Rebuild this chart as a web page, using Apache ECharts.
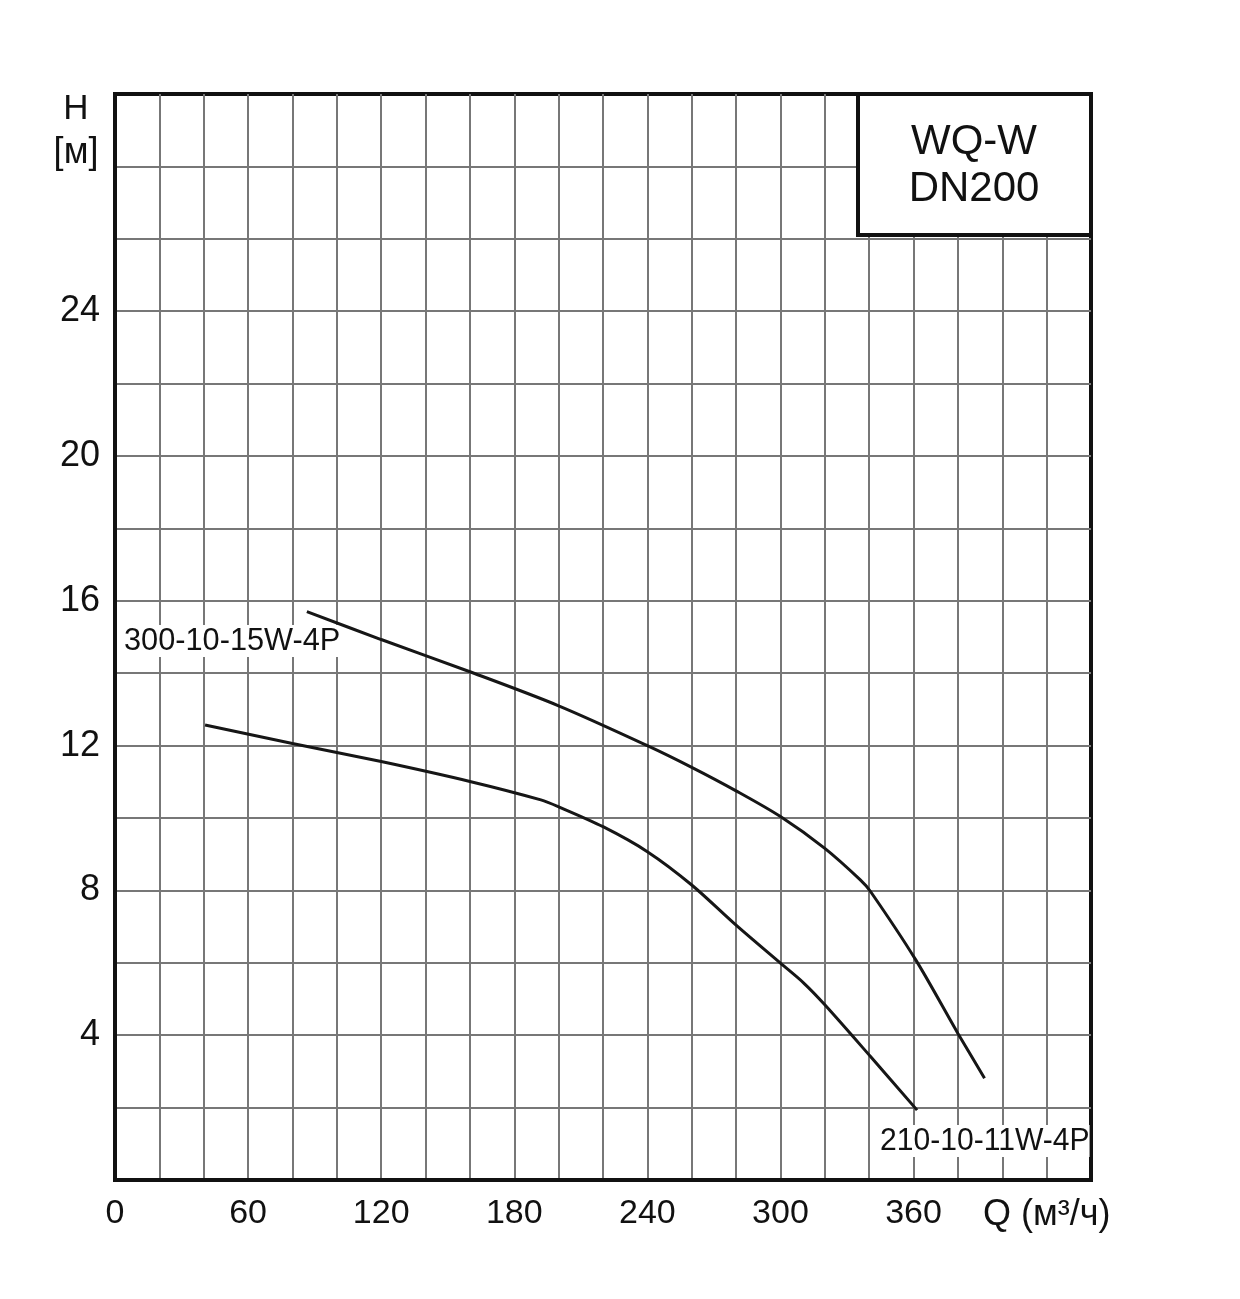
<!DOCTYPE html>
<html>
<head>
<meta charset="utf-8">
<script src="https://cdn.jsdelivr.net/npm/echarts@6/dist/echarts.min.js"></script>
<style>
  html, body { margin: 0; padding: 0; background: #fff; }
  #main { width: 1240px; height: 1299px; }
</style>
</head>
<body>
<div id="main"></div>
<script>
// Q (m3/h) - H (m) points
const curve300 = [
  [86.5, 15.7], [120, 14.93], [160, 14.04], [200, 13.1], [240, 12.0],
  [260, 11.4], [280, 10.75], [300, 10.04], [320, 9.16], [336, 8.29],
  [340.6, 7.97], [361, 6.08], [380, 4.05], [392, 2.81]
]
const curve210 = [
  [40.6, 12.57], [80, 12.06], [120, 11.56], [160, 11.01], [192, 10.5],
  [200, 10.31], [220, 9.76], [240, 9.07], [260, 8.15],
  [280, 7.04], [300, 5.99], [310.5, 5.44], [320, 4.84], [340.6, 3.41],
  [361.6, 1.93]
]
const xLabels = [0, 60, 120, 180, 240, 300, 360]
const yLabels = [4, 8, 12, 16, 20, 24]
const seriesNames = ['300-10-15W-4P', '210-10-11W-4P']

const font = 'Liberation Sans, Arial, sans-serif'
const chart = echarts.init(document.getElementById('main'))

const option = {
  animation: false,
  backgroundColor: '#fff',
  grid: {
    left: 115,
    right: 149,
    top: 94,
    bottom: 119,
    show: true,
    borderColor: '#111',
    borderWidth: 4
  },
  xAxis: {
    type: 'value',
    min: 0,
    max: 440,
    interval: 20,
    axisLine: { show: true, lineStyle: { color: '#111', width: 4 } },
    axisTick: { show: false },
    axisLabel: {
      margin: 17,
      color: '#111',
      fontSize: 34,
      fontFamily: font,
      formatter: v => {
        if (xLabels.indexOf(v) >= 0) return String(v)
        if (v === 420) return '{q|Q (м³/ч)}'
        return ''
      },
      rich: {
        q: { fontSize: 36, fontFamily: font, color: '#111' }
      }
    },
    splitLine: {
      show: true,
      showMinLine: false,
      showMaxLine: false,
      lineStyle: { color: '#777', width: 2 }
    }
  },
  yAxis: {
    type: 'value',
    min: 0,
    max: 30,
    interval: 2,
    axisLine: { show: true, lineStyle: { color: '#111', width: 4 } },
    axisTick: { show: false },
    axisLabel: {
      margin: 15,
      color: '#111',
      fontSize: 36,
      fontFamily: font,
      padding: [6, 0, 0, 0],
      formatter: v => (yLabels.indexOf(v) >= 0 ? String(v) : '')
    },
    splitLine: {
      show: true,
      showMinLine: false,
      showMaxLine: false,
      lineStyle: { color: '#777', width: 2 }
    }
  },
  series: [
    {
      name: seriesNames[0],
      type: 'line',
      z: 5,
      data: curve300,
      smooth: 0.3,
      showSymbol: false,
      lineStyle: { color: '#161616', width: 3 }
    },
    {
      name: seriesNames[1],
      type: 'line',
      z: 5,
      data: curve210,
      smooth: 0.3,
      showSymbol: false,
      lineStyle: { color: '#161616', width: 3 }
    }
  ],
  graphic: [
    {
      type: 'rect',
      z: 100,
      shape: { x: 858, y: 94, width: 233, height: 141 },
      style: { fill: '#fff', stroke: '#111', lineWidth: 4 }
    },
    {
      type: 'text',
      z: 101,
      x: 974,
      y: 142,
      style: {
        text: 'WQ-W',
        font: '42px ' + font,
        fill: '#111',
        align: 'center',
        verticalAlign: 'middle'
      }
    },
    {
      type: 'text',
      z: 101,
      x: 974,
      y: 189,
      style: {
        text: 'DN200',
        font: '42px ' + font,
        fill: '#111',
        align: 'center',
        verticalAlign: 'middle'
      }
    },
    {
      type: 'text',
      z: 101,
      x: 76,
      y: 109,
      style: {
        text: 'H',
        font: '35px ' + font,
        fill: '#111',
        align: 'center',
        verticalAlign: 'middle'
      }
    },
    {
      type: 'text',
      z: 101,
      x: 76,
      y: 153,
      style: {
        text: '[м]',
        font: '36px ' + font,
        fill: '#111',
        align: 'center',
        verticalAlign: 'middle'
      }
    },
    {
      type: 'text',
      z: 1,
      x: 124,
      y: 641,
      scaleX: 0.96,
      style: {
        text: seriesNames[0],
        font: '32px ' + font,
        fill: '#111',
        align: 'left',
        verticalAlign: 'middle',
        backgroundColor: '#fff'
      }
    },
    {
      type: 'text',
      z: 1,
      x: 880,
      y: 1141,
      scaleX: 0.94,
      style: {
        text: seriesNames[1],
        font: '32px ' + font,
        fill: '#111',
        align: 'left',
        verticalAlign: 'middle',
        backgroundColor: '#fff'
      }
    }
  ]
}

chart.setOption(option)
</script>
</body>
</html>
